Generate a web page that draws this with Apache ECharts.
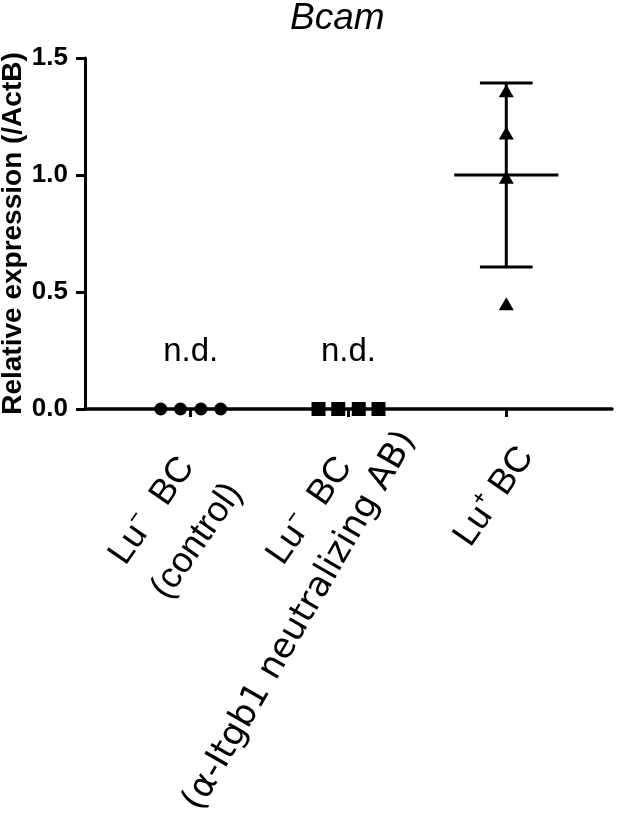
<!DOCTYPE html>
<html>
<head>
<meta charset="utf-8">
<script src="https://cdn.jsdelivr.net/npm/echarts@6/dist/echarts.min.js"></script>
<style>
  html, body { margin: 0; padding: 0; background: #fff; }
  #chart { width: 617px; height: 814px; }
</style>
</head>
<body>
<div id="chart"></div>
<script>
// ---- data ----
const chartTitle = 'Bcam';
const yAxisName = 'Relative expression (/ActB)';
const groupPositions = [1, 2, 3];
const groupLine1 = ['Lu\u207B  BC', 'Lu\u207B  BC', 'Lu\u207A BC'];
const groupLine2 = ['(control)', '(α-Itgb1 neutralizing AB)', ''];
const ctrlValues = [0, 0, 0, 0];          // Lu- BC (control): n.d.
const abValues = [0, 0, 0, 0];            // Lu- BC (a-Itgb1 AB): n.d.
const luPosValues = [1.36, 1.18, 0.99, 0.45];
const luPosMean = 1.0;
const luPosSD = 0.393;
const ndText = 'n.d.';
const yTicks = [0, 0.5, 1.0, 1.5];
const dotSpread = [-0.19, -0.065, 0.065, 0.19];

const chart = echarts.init(document.getElementById('chart'), null, { renderer: 'canvas' });
const black = '#000';
const ndLevel = 0.245;

function meanSdRender(params, api) {
  const x = api.value(0), m = api.value(1), sd = api.value(2);
  const pm = api.coord([x, m]);
  const pTop = api.coord([x, m + sd]);
  const pBot = api.coord([x, m - sd]);
  const halfMean = api.size([0.33, 0])[0];
  const halfCap = api.size([0.167, 0])[0];
  const st = { stroke: black, lineWidth: 3 };
  return {
    type: 'group',
    children: [
      { type: 'line', shape: { x1: pTop[0], y1: pTop[1], x2: pBot[0], y2: pBot[1] }, style: st },
      { type: 'line', shape: { x1: pm[0] - halfMean, y1: pm[1], x2: pm[0] + halfMean, y2: pm[1] }, style: st },
      { type: 'line', shape: { x1: pTop[0] - halfCap, y1: pTop[1], x2: pTop[0] + halfCap, y2: pTop[1] }, style: st },
      { type: 'line', shape: { x1: pBot[0] - halfCap, y1: pBot[1], x2: pBot[0] + halfCap, y2: pBot[1] }, style: st }
    ]
  };
}

const option = {
  backgroundColor: '#fff',
  animation: false,
  title: {
    text: chartTitle,
    left: 285,
    top: -5,
    textStyle: { fontFamily: 'Liberation Sans', fontStyle: 'italic', fontWeight: 'normal', fontSize: 37, color: black }
  },
  grid: { left: 85, right: 5, top: 58, bottom: 405, containLabel: false, outerBoundsMode: 'none' },
  xAxis: [
    {
      type: 'value', min: 0.33, max: 3.67, position: 'bottom',
      splitLine: { show: false },
      axisLine: { show: true, onZero: false, lineStyle: { color: black, width: 3.5 } },
      axisTick: { show: true, customValues: groupPositions, length: 8, lineStyle: { color: black, width: 3 } },
      axisLabel: {
        customValues: groupPositions,
        rotate: 55, margin: -9, verticalAlign: 'top',
        fontFamily: 'Liberation Sans', fontSize: 36, color: black,
        formatter: function (v) {
          const i = groupPositions.indexOf(Math.round(v));
          if (i === 0) return '{a|' + groupLine1[0] + '}\n{b|' + groupLine2[0] + '}';
          if (i === 1) return '{a|' + groupLine1[1] + '}';
          if (i === 2) return '{c|' + groupLine1[2] + '}';
          return '';
        },
        rich: {
          a: { fontFamily: 'Liberation Sans', fontSize: 36, color: black, lineHeight: 64, padding: [0, 52, 0, 0] },
          b: { fontFamily: 'Liberation Sans', fontSize: 36, color: black, lineHeight: 44, padding: [0, 46, 0, 0] },
          c: { fontFamily: 'Liberation Sans', fontSize: 36, color: black, lineHeight: 44, padding: [47, 30, 0, 0] }
        }
      }
    },
    {
      type: 'value', min: 0.33, max: 3.67, position: 'bottom',
      splitLine: { show: false },
      axisLine: { show: false, onZero: false },
      axisTick: { show: false },
      axisLabel: {
        customValues: [groupPositions[1]],
        rotate: 60, margin: -16, verticalAlign: 'top',
        fontFamily: 'DejaVu Sans', fontSize: 35, lineHeight: 40, color: black,
        padding: [52, 6, 0, 0],
        formatter: function (v) {
          const i = groupPositions.indexOf(Math.round(v));
          return i === 1 ? groupLine2[i] : '';
        }
      }
    }
  ],
  yAxis: {
    type: 'value', min: yTicks[0], max: yTicks[yTicks.length - 1], interval: 0.5,
    splitLine: { show: false },
    axisLine: { show: true, lineStyle: { color: black, width: 3 } },
    axisTick: { show: true, length: 9, lineStyle: { color: black, width: 3 } },
    axisLabel: {
      margin: 17, fontFamily: 'Liberation Sans', fontWeight: 'bold', fontSize: 26, color: black,
      formatter: function (v) { return v.toFixed(1); }
    },
    name: yAxisName, nameLocation: 'middle', nameGap: 58, nameMoveOverlap: false,
    nameTextStyle: { fontFamily: 'Liberation Sans', fontWeight: 'bold', fontSize: 28, color: black }
  },
  series: [
    {
      type: 'custom', renderItem: meanSdRender, z: 1,
      data: [[groupPositions[2], luPosMean, luPosSD]]
    },
    {
      type: 'scatter', symbol: 'circle', symbolSize: 13, z: 3,
      itemStyle: { color: black, opacity: 1 },
      data: ctrlValues.map((v, i) => [groupPositions[0] + dotSpread[i], v])
    },
    {
      type: 'scatter', symbol: 'rect', symbolSize: 14, z: 3,
      itemStyle: { color: black, opacity: 1 },
      data: abValues.map((v, i) => [groupPositions[1] + dotSpread[i], v])
    },
    {
      type: 'scatter', symbol: 'triangle', symbolSize: [15, 13], z: 3,
      itemStyle: { color: black, opacity: 1 },
      data: luPosValues.map(v => [groupPositions[2], v])
    },
    {
      type: 'scatter', symbol: 'circle', symbolSize: 1, z: 2,
      itemStyle: { color: '#fff', opacity: 1 },
      label: { show: true, position: 'inside', formatter: ndText, fontFamily: 'Liberation Sans', fontSize: 33, color: black, opacity: 1 },
      data: [[groupPositions[0], ndLevel], [groupPositions[1], ndLevel]]
    }
  ]
};
chart.setOption(option);
</script>
</body>
</html>
